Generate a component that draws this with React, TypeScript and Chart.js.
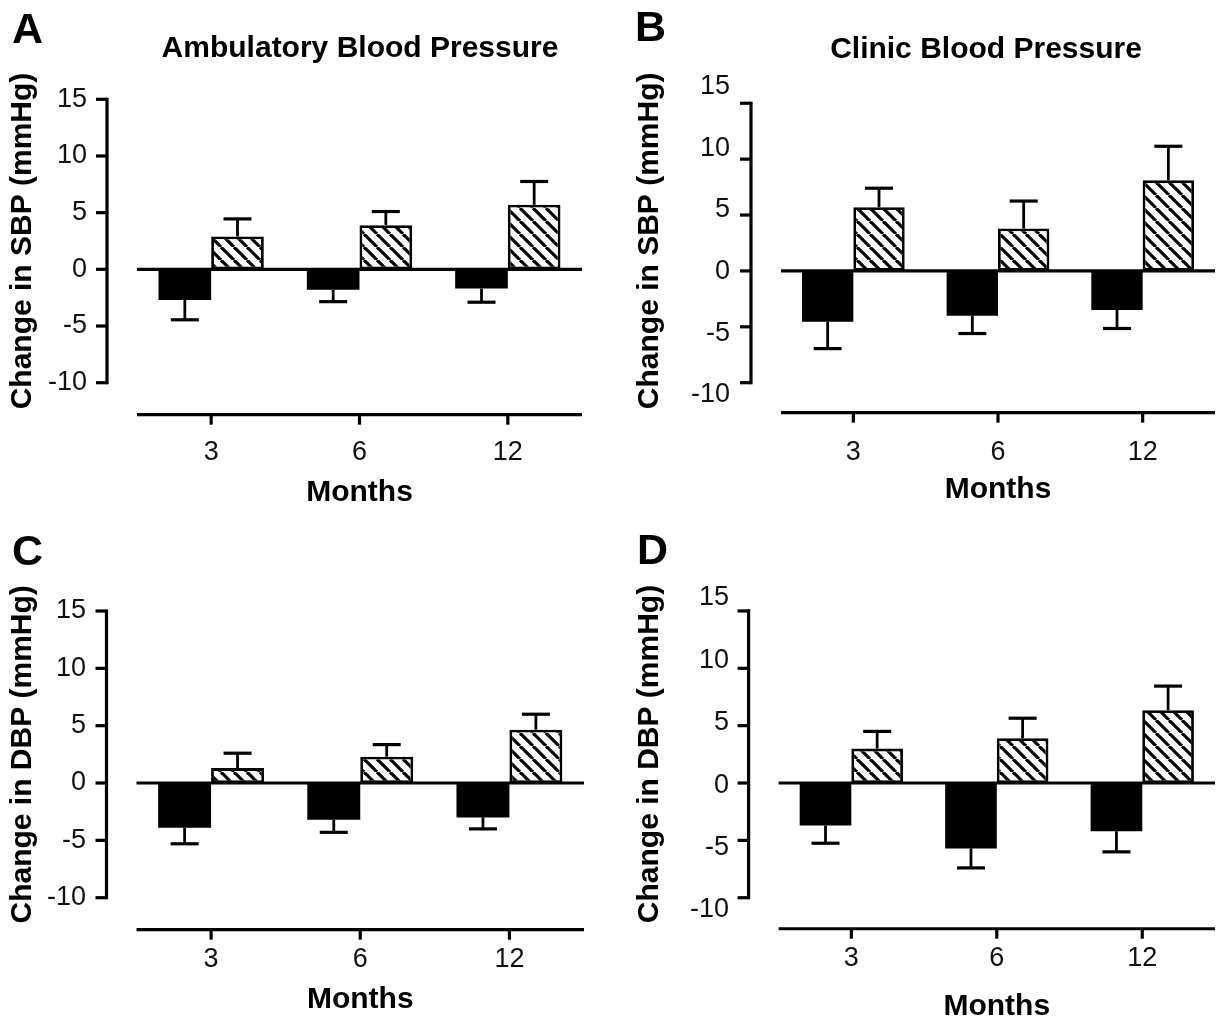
import React, { useEffect, useRef } from 'react';
import { Chart, registerables } from 'chart.js';

Chart.register(...registerables);

const FONT = '"Liberation Sans", Arial, Helvetica, sans-serif';

// ---- data ----
const MONTHS = ['3', '6', '12'];
const Y_TICKS = [-10, -5, 0, 5, 10, 15];

// A: Ambulatory SBP
const ambSbpSolid = [-2.7, -1.8, -1.7];
const ambSbpSolidErr = [1.75, 1.05, 1.2];
const ambSbpHatched = [2.9, 3.9, 5.7];
const ambSbpHatchedErr = [1.55, 1.2, 2.05];

// B: Clinic SBP
const clinSbpSolid = [-4.55, -4.0, -3.5];
const clinSbpSolidErr = [2.4, 1.6, 1.65];
const clinSbpHatched = [5.7, 3.8, 8.1];
const clinSbpHatchedErr = [1.7, 2.45, 3.05];

// C: Ambulatory DBP
const ambDbpSolid = [-3.9, -3.2, -3.0];
const ambDbpSolidErr = [1.4, 1.1, 1.0];
const ambDbpHatched = [1.3, 2.3, 4.65];
const ambDbpHatchedErr = [1.3, 1.05, 1.35];

// D: Clinic DBP
const clinDbpSolid = [-3.7, -5.7, -4.2];
const clinDbpSolidErr = [1.55, 1.7, 1.8];
const clinDbpHatched = [3.0, 3.9, 6.35];
const clinDbpHatchedErr = [1.5, 1.75, 2.1];

// ---- layout per panel ----
const PANELS = [
  {
    key: 'A', letter: 'A', title: 'Ambulatory Blood Pressure', yTitle: 'Change in SBP (mmHg)',
    solid: ambSbpSolid, solidErr: ambSbpSolidErr, hatched: ambSbpHatched, hatchedErr: ambSbpHatchedErr,
    left: 0, top: 0, w: 610, h: 512,
    area: { left: 137, right: 582, top: 99.3, bottom: 382.7 },
    yMin: -10, yMax: 15, xLabelPad: 53.8, xScaleBottom: 510.5, yLabelPad: 50, yTitlePad: 5,
    letterX: 12, letterY: 43, titleX: 360, titleY: 49, axisGap: 32,
  },
  {
    key: 'B', letter: 'B', title: 'Clinic Blood Pressure', yTitle: 'Change in SBP (mmHg)',
    solid: clinSbpSolid, solidErr: clinSbpSolidErr, hatched: clinSbpHatched, hatchedErr: clinSbpHatchedErr,
    left: 610, top: 0, w: 610, h: 512,
    area: { left: 171, right: 605, top: 86.7, bottom: 395 },
    yMin: -11.1, yMax: 16.48, xLabelPad: 41.5, xScaleBottom: 508, yLabelPad: 51, yTitlePad: 22,
    letterX: 25, letterY: 41, titleX: 376, titleY: 50, axisGap: 30,
  },
  {
    key: 'C', letter: 'C', title: '', yTitle: 'Change in DBP (mmHg)',
    solid: ambDbpSolid, solidErr: ambDbpSolidErr, hatched: ambDbpHatched, hatchedErr: ambDbpHatchedErr,
    left: 0, top: 512, w: 610, h: 513,
    area: { left: 136.5, right: 584, top: 99, bottom: 385.7 },
    yMin: -10, yMax: 15, xLabelPad: 46.1, xScaleBottom: 506, yLabelPad: 50.5, yTitlePad: 5,
    letterX: 12, letterY: 53, titleX: 0, titleY: 0, axisGap: 32,
  },
  {
    key: 'D', letter: 'D', title: '', yTitle: 'Change in DBP (mmHg)',
    solid: clinDbpSolid, solidErr: clinDbpSolidErr, hatched: clinDbpHatched, hatchedErr: clinDbpHatchedErr,
    left: 610, top: 512, w: 610, h: 513,
    area: { left: 168.6, right: 605, top: 86, bottom: 398 },
    yMin: -11.07, yMax: 16.13, xLabelPad: 32.5, xScaleBottom: 513, yLabelPad: 49.6, yTitlePad: 22,
    letterX: 27, letterY: 52, titleX: 0, titleY: 0, axisGap: 31,
  },
];

function makeHatch(): CanvasPattern | string {
  const s = 13;
  const c = document.createElement('canvas');
  c.width = s;
  c.height = s;
  const g = c.getContext('2d');
  if (!g) return '#fff';
  g.fillStyle = '#fff';
  g.fillRect(0, 0, s, s);
  g.strokeStyle = '#000';
  g.lineWidth = 3.2;
  for (const o of [-s, 0, s]) {
    g.beginPath();
    g.moveTo(o, 0);
    g.lineTo(o + s, s);
    g.stroke();
  }
  const pat = g.createPattern(c, 'repeat');
  return pat || '#fff';
}

const decorPlugin = {
  id: 'decor',
  afterDatasetsDraw(chart: any) {
    const { ctx, chartArea } = chart;
    const ys = chart.scales.y;
    ctx.save();
    ctx.strokeStyle = '#000';
    chart.data.datasets.forEach((ds: any, di: number) => {
      const meta = chart.getDatasetMeta(di);
      meta.data.forEach((bar: any, j: number) => {
        const v = ds.data[j];
        const e = ds.errors[j];
        const tip = v + (v < 0 ? -e : e);
        const yb = ys.getPixelForValue(v);
        const yt = ys.getPixelForValue(tip);
        ctx.lineWidth = 2.8;
        ctx.beginPath();
        ctx.moveTo(bar.x, yb);
        ctx.lineTo(bar.x, yt);
        ctx.stroke();
        ctx.lineWidth = 3.2;
        ctx.beginPath();
        ctx.moveTo(bar.x - 14, yt);
        ctx.lineTo(bar.x + 14, yt);
        ctx.stroke();
      });
    });
    const y0 = ys.getPixelForValue(0);
    ctx.lineWidth = 3.2;
    ctx.beginPath();
    ctx.moveTo(chartArea.left, y0);
    ctx.lineTo(chartArea.right, y0);
    ctx.stroke();
    ctx.restore();
  },
  afterDraw(chart: any, _args: any, opts: any) {
    const p = opts.panel;
    const { ctx, chartArea } = chart;
    const ys = chart.scales.y;
    const xs = chart.scales.x;
    ctx.save();
    ctx.strokeStyle = '#000';
    ctx.lineWidth = 3.2;
    const ax = chartArea.left - 30;
    const yTop = ys.getPixelForValue(Y_TICKS[Y_TICKS.length - 1]);
    const yBot = ys.getPixelForValue(Y_TICKS[0]);
    ctx.beginPath();
    ctx.moveTo(ax, yTop - 1.6);
    ctx.lineTo(ax, yBot + 1.6);
    ctx.stroke();
    Y_TICKS.forEach((v) => {
      const py = ys.getPixelForValue(v);
      ctx.beginPath();
      ctx.moveTo(ax - 11, py);
      ctx.lineTo(ax, py);
      ctx.stroke();
    });
    const lineY = yBot + p.axisGap;
    ctx.beginPath();
    ctx.moveTo(chartArea.left, lineY);
    ctx.lineTo(chartArea.right, lineY);
    ctx.stroke();
    MONTHS.forEach((_m, i) => {
      const px = xs.getPixelForValue(i);
      ctx.beginPath();
      ctx.moveTo(px, lineY);
      ctx.lineTo(px, lineY + 10);
      ctx.stroke();
    });
    ctx.fillStyle = '#000';
    ctx.font = `bold 43px ${FONT}`;
    ctx.textAlign = 'left';
    ctx.textBaseline = 'alphabetic';
    ctx.fillText(p.letter, p.letterX, p.letterY);
    if (p.title) {
      ctx.font = `bold 30px ${FONT}`;
      ctx.textAlign = 'center';
      ctx.textBaseline = 'middle';
      ctx.fillText(p.title, p.titleX, p.titleY);
    }
    ctx.restore();
  },
};

function Panel({ p }: { p: any }) {
  const ref = useRef<HTMLCanvasElement | null>(null);
  useEffect(() => {
    if (!ref.current) return;
    const hatch = makeHatch();
    const chart = new Chart(ref.current, {
      type: 'bar',
      data: {
        labels: MONTHS,
        datasets: [
          {
            label: 'Solid',
            data: p.solid,
            errors: p.solidErr,
            backgroundColor: '#000',
            borderColor: '#000',
            borderWidth: 0,
            categoryPercentage: 0.71,
            barPercentage: 1,
          } as any,
          {
            label: 'Hatched',
            data: p.hatched,
            errors: p.hatchedErr,
            backgroundColor: hatch,
            borderColor: '#000',
            borderWidth: 2.8,
            borderSkipped: false,
            categoryPercentage: 0.71,
            barPercentage: 1,
          } as any,
        ],
      },
      options: {
        responsive: false,
        animation: false,
        devicePixelRatio: 1,
        layout: {
          padding: {
            left: 0,
            top: p.area.top,
            right: p.w - p.area.right,
            bottom: p.h - p.xScaleBottom,
          },
        },
        plugins: {
          legend: { display: false },
          tooltip: { enabled: false },
          title: { display: false },
          decor: { panel: p },
        } as any,
        scales: {
          x: {
            type: 'category',
            offset: true,
            grid: { display: false, drawTicks: false },
            border: { display: false },
            ticks: { padding: p.xLabelPad, color: '#111', font: { family: FONT, size: 27 } },
            title: {
              display: true,
              text: 'Months',
              color: '#000',
              font: { family: FONT, size: 30, weight: 'bold' },
              padding: { top: 0, bottom: 0 },
            },
            afterFit: (s: any) => {
              s.height = p.xScaleBottom - p.area.bottom;
            },
          },
          y: {
            display: false,
            min: p.yMin,
            max: p.yMax,
          },
          yl: {
            position: 'left',
            min: Y_TICKS[0],
            max: Y_TICKS[Y_TICKS.length - 1],
            grid: { display: false, drawTicks: false },
            border: { display: false },
            afterBuildTicks: (s: any) => {
              s.ticks = Y_TICKS.map((v) => ({ value: v }));
            },
            ticks: { padding: p.yLabelPad, color: '#111', font: { family: FONT, size: 27 } },
            title: {
              display: true,
              text: p.yTitle,
              color: '#000',
              font: { family: FONT, size: 30, weight: 'bold' },
              padding: { top: p.yTitlePad, bottom: 0 },
            },
            afterFit: (s: any) => {
              s.width = p.area.left;
            },
          },
        } as any,
      },
      plugins: [decorPlugin as any],
    } as any);
    return () => chart.destroy();
  }, [p]);
  return (
    <canvas
      ref={ref}
      width={p.w}
      height={p.h}
      style={{ position: 'absolute', left: p.left, top: p.top, width: p.w, height: p.h }}
    />
  );
}

export default function App() {
  useEffect(() => {
    document.body.style.margin = '0';
    document.body.style.background = '#fff';
  }, []);
  return (
    <div style={{ position: 'relative', width: 1220, height: 1025, background: '#fff', overflow: 'hidden' }}>
      {PANELS.map((p) => (
        <Panel key={p.key} p={p} />
      ))}
    </div>
  );
}
